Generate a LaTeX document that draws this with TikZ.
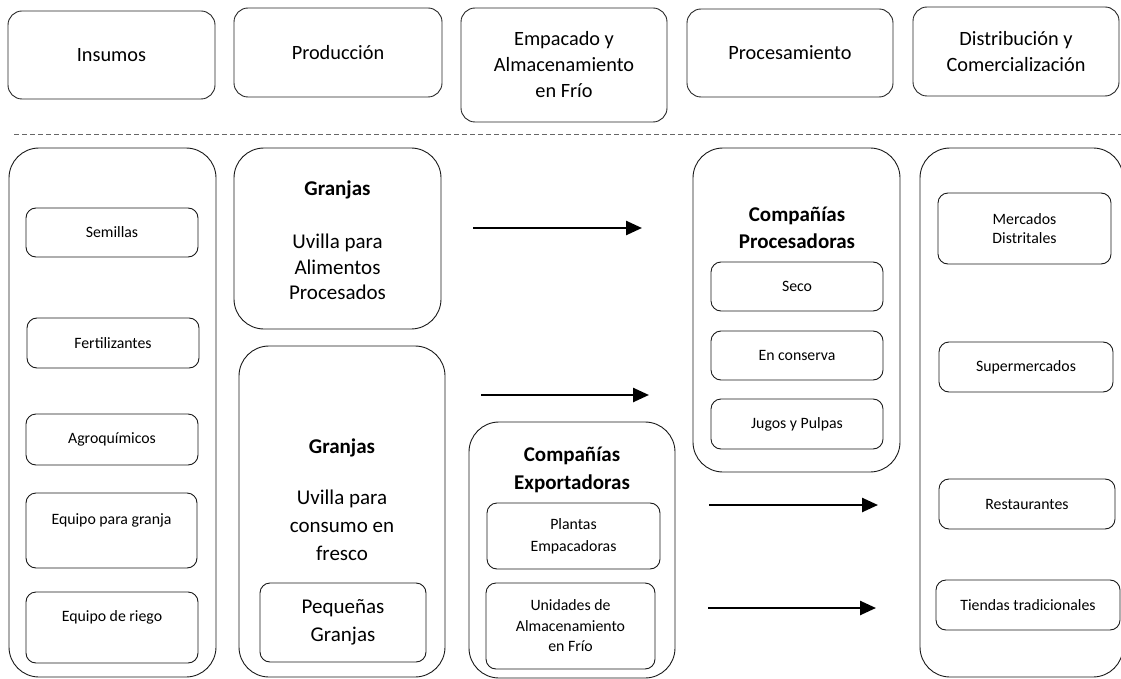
\documentclass[tikz,border=0pt]{standalone}
\usepackage{fontspec}
\setmainfont{Carlito}
\usetikzlibrary{arrows.meta}

\tikzset{
  tam/.style 2 args={minimum width=#1, minimum height=#2},
  etapa/.style={draw=black!85, line width=0.9pt, rounded corners=14pt, inner sep=0pt,
    align=center, font=\fontsize{20.3}{26}\selectfont},
  grupo/.style={draw=black!90, line width=0.9pt, rounded corners=30pt, inner sep=0pt},
  item/.style={draw=black!90, line width=0.9pt, rounded corners=10pt, inner sep=0pt,
    align=center, font=\fontsize{15.8}{20.5}\selectfont},
  titulo/.style={align=center, font=\bfseries\fontsize{21}{27.5}\selectfont},
  texto/.style={align=center, font=\fontsize{21}{27.5}\selectfont},
  flecha/.style={-{Triangle[length=16pt,width=14pt]}, line width=2.5pt},
}

\begin{document}
\begin{tikzpicture}[x=1pt,y=-1pt]
    \useasboundingbox (0,0) rectangle (1121,679);
    % Stages of the chain
    \node[etapa, tam={207}{88}] (insumos) at (111.5,55) {Insumos};
    \node[etapa, tam={208}{89}] (produccion) at (338,52.5) {Producción};
    \node[etapa, tam={206}{114}] (empacado) at (564,65) {Empacado y\\Almacenamiento\\en Frío};
    \node[etapa, tam={206}{88}] (procesamiento) at (790,53) {Procesamiento};
    \node[etapa, tam={206}{89}] (distribucion) at (1016,51.5) {Distribución y\\Comercialización};
    % Dashed separator
    \coordinate (sepL) at (14,134);
    \coordinate (sepR) at (1121,134);
    \draw[black!60, line width=0.9pt, dash pattern=on 5pt off 3pt] (sepL) -- (sepR);
    % Inputs
    \node[grupo, tam={207}{529}] (insumosgrp) at (112.5,412.5) {};
    \node[item, tam={172}{49}] (semillas) at (112,232.5) {Semillas};
    \node[item, tam={172}{50}] (fertilizantes) at (113,343) {Fertilizantes};
    \node[item, tam={172}{51}] (agroquimicos) at (112,439.5) {Agroquímicos};
    \node[item, tam={171}{75}] (equipogranja) at (111.5,530.5) {};
    \node[item, draw=none] (equipogranjatxt) at (111.5,520) {Equipo para granja};
    \node[item, tam={172}{71}] (equiporiego) at (112,627.5) {};
    \node[item, draw=none] (equiporiegotxt) at (112,617) {Equipo de riego};
    % Farms
    \node[grupo, tam={207}{181}] (granjasproc) at (337.5,238.5) {};
    \node[titulo] (granjasproctit) at (337.5,190) {Granjas};
    \node[texto, font=\fontsize{21}{25.5}\selectfont] (granjasproctxt) at (337.5,267) {Uvilla para\\Alimentos\\Procesados};
    \node[grupo, tam={206}{331}] (granjasfres) at (342,511.5) {};
    \node[titulo] (granjasfrestit) at (342,448) {Granjas};
    \node[texto, font=\fontsize{21}{28}\selectfont] (granjasfrestxt) at (342,525) {Uvilla para\\consumo en\\fresco};
    \node[item, texto, tam={166}{79}] (pequenas) at (343,622.5) {Pequeñas\\Granjas};
    % Exporters
    \node[grupo, tam={206}{256}] (exportadoras) at (572,550) {};
    \node[titulo] (exportadorastit) at (572,470) {Compañías\\Exportadoras};
    \node[item, font=\fontsize{15.8}{22}\selectfont, tam={173}{66}] (plantas) at (573.5,536) {Plantas\\Empacadoras};
    \node[item, tam={169}{86}] (unidades) at (570.5,626) {Unidades de\\Almacenamiento\\en Frío};
    % Processors
    \node[grupo, tam={207}{324}] (procesadoras) at (796.5,310) {};
    \node[titulo] (procesadorastit) at (797,228) {Compañías\\Procesadoras};
    \node[item, tam={172}{49}] (seco) at (797,286.5) {Seco};
    \node[item, tam={172}{49}] (conserva) at (797,355.5) {En conserva};
    \node[item, tam={172}{50}] (jugos) at (797,424) {Jugos y Pulpas};
    % Markets
    \node[grupo, tam={203}{529}] (mercadosgrp) at (1021.5,412.5) {};
    \node[item, font=\fontsize{15.8}{19}\selectfont, tam={173}{71}] (mercados) at (1024.5,228.5) {Mercados\\Distritales};
    \node[item, tam={174}{50}] (supermercados) at (1026,367) {Supermercados};
    \node[item, tam={176}{50}] (restaurantes) at (1027,504) {Restaurantes};
    \node[item, tam={184}{50}] (tiendas) at (1028,605) {Tiendas tradicionales};
    % Flows
    \coordinate (f1a) at (473,228);
    \coordinate (f1b) at (642,228);
    \coordinate (f2a) at (481,395);
    \coordinate (f2b) at (649,395);
    \coordinate (f3a) at (709,505);
    \coordinate (f3b) at (878,505);
    \coordinate (f4a) at (708,608);
    \coordinate (f4b) at (876,608);
    \draw[flecha] (f1a) -- (f1b);
    \draw[flecha] (f2a) -- (f2b);
    \draw[flecha] (f3a) -- (f3b);
    \draw[flecha] (f4a) -- (f4b);
\end{tikzpicture}
\end{document}
